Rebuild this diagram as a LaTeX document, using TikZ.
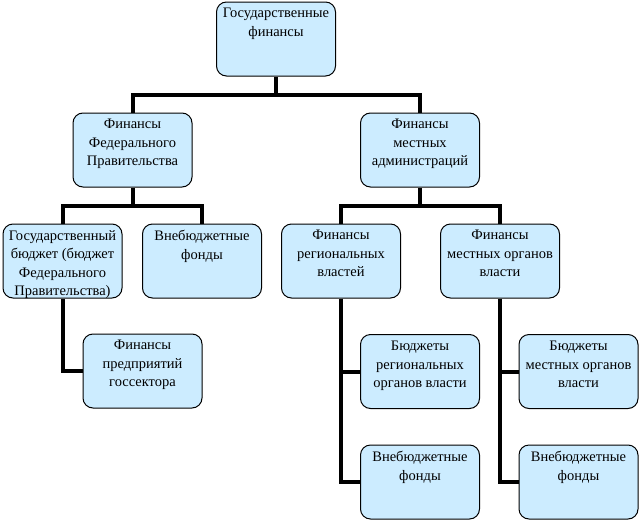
\documentclass[tikz,border=0pt]{standalone}
\usepackage{fontspec}
\setmainfont{Liberation Serif}
\definecolor{boxblue}{HTML}{CCECFF}
\newcommand\bxtext[1]{\parbox[c][61pt][t]{117pt}{\centering\fontsize{14.5pt}{18.5pt}\selectfont #1}}
\begin{document}
\begin{tikzpicture}[x=1pt,y=-1pt,
  box/.style={draw=black, line width=1pt, fill=boxblue, rounded corners=10pt,
    inner xsep=1pt, inner ysep=6.5pt, minimum width=119pt, minimum height=74pt},
  conn/.style={line width=4pt, draw=black, line join=miter}]
\useasboundingbox (0,0) rectangle (642,522);
\node[box] (top) at (276,39) {\bxtext{Государственные\\финансы}};
\node[box] (fed) at (132.5,150) {\bxtext{Финансы\\Федерального\\Правительства}};
\node[box] (loc) at (420,150) {\bxtext{Финансы\\местных\\администраций}};
\node[box] (gb) at (62.5,261) {\bxtext{Государственный\\бюджет (бюджет\\Федерального\\Правительства)}};
\node[box] (vf1) at (202,261) {\bxtext{Внебюджетные\\фонды}};
\node[box] (reg) at (341,261) {\bxtext{Финансы\\региональных\\властей}};
\node[box] (lo) at (500,261) {\bxtext{Финансы\\местных органов\\власти}};
\node[box] (pe) at (142.5,371) {\bxtext{Финансы\\предприятий\\госсектора}};
\node[box] (br) at (420,371.5) {\bxtext{Бюджеты\\региональных\\органов власти}};
\node[box] (vf2) at (420,482) {\bxtext{Внебюджетные\\фонды}};
\node[box] (bl) at (578.5,371.5) {\bxtext{Бюджеты\\местных органов\\власти}};
\node[box] (vf3) at (578.5,482) {\bxtext{Внебюджетные\\фонды}};
\coordinate (j1) at (276,95);
\coordinate (j2) at (132.5,206);
\coordinate (j3) at (420,206);
\draw[conn] (top.south) -- (j1);
\draw[conn] (fed.north) |- (j1) -| (loc.north);
\draw[conn] (fed.south) -- (j2);
\draw[conn] (gb.north) |- (j2) -| (vf1.north);
\draw[conn] (loc.south) -- (j3);
\draw[conn] (reg.north) |- (j3) -| (lo.north);
\draw[conn] (gb.south) |- (pe.west);
\draw[conn] (reg.south) |- (br.west);
\draw[conn] (reg.south) |- (vf2.west);
\draw[conn] (lo.south) |- (bl.west);
\draw[conn] (lo.south) |- (vf3.west);
\end{tikzpicture}
\end{document}
